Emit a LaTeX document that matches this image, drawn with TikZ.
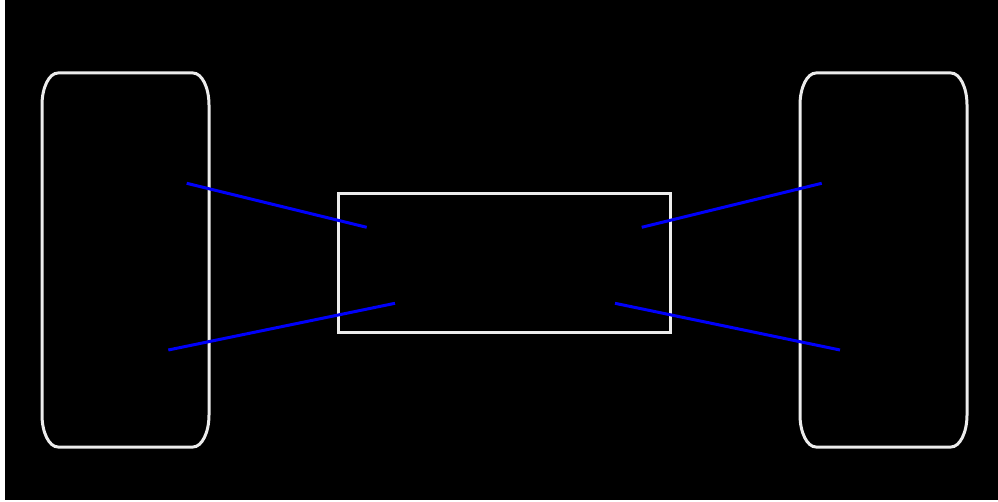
\documentclass[tikz,border=0pt]{standalone}
\usetikzlibrary{positioning,calc}
\definecolor{rimwhite}{RGB}{236,236,236}
\definecolor{axleblue}{RGB}{0,0,250}
\tikzstyle{chassis} = [
  rectangle, draw = rimwhite, line width = 3pt, inner sep = 0pt,
  minimum width = 332pt, minimum height = 138pt
]
\tikzstyle{tyre} = [draw = rimwhite, line width = 3pt]
\tikzstyle{axle} = [draw = axleblue, line width = 3pt]

\begin{document}
\begin{tikzpicture}[x=1pt, y=1pt]
    \useasboundingbox (0,0) rectangle (998,501);
    \fill[white] (0,0) rectangle (998,501);
    \fill[black] (5,1) rectangle (998,501);

    \node[chassis] (body) at (504.5,238) {};

    % the two wheels, corners a bit taller than wide
    \foreach \cx/\nm in {125.5/lwheel, 883.5/rwheel} {
      \coordinate (\nm) at (\cx,241);
      \draw[tyre] ($(\nm)+(-67.5,187)$) -- ($(\nm)+(67.5,187)$)
        arc[start angle=90, end angle=0, x radius=16, y radius=32]
        -- ($(\nm)+(83.5,-155)$)
        arc[start angle=0, end angle=-90, x radius=16, y radius=32]
        -- ($(\nm)+(-67.5,-187)$)
        arc[start angle=270, end angle=180, x radius=16, y radius=32]
        -- ($(\nm)+(-83.5,155)$)
        arc[start angle=180, end angle=90, x radius=16, y radius=32]
        -- cycle;
    }

    \coordinate (lwup) at (186.7,317.7);
    \coordinate (lwlow) at (168.3,151);
    \coordinate (rwup) at (821.7,317.7);
    \coordinate (rwlow) at (840,151);
    \coordinate (blup) at (366.7,273.7);
    \coordinate (bllow) at (395,197.7);
    \coordinate (brup) at (641.7,273.7);
    \coordinate (brlow) at (615,197.7);

    \draw[axle] (lwup) -- (blup);
    \draw[axle] (lwlow) -- (bllow);
    \draw[axle] (brup) -- (rwup);
    \draw[axle] (brlow) -- (rwlow);
\end{tikzpicture}
\end{document}
